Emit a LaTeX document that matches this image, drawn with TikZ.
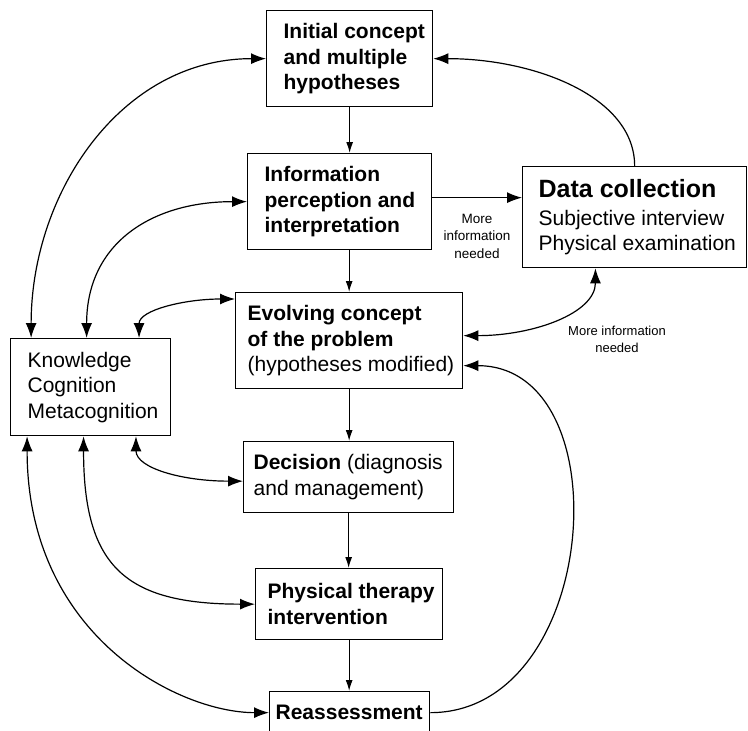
\documentclass[tikz,border=0pt]{standalone}
\usepackage{fontspec}
\setmainfont{Liberation Sans}
\usetikzlibrary{arrows.meta,calc}
% indented, left-aligned block of lines inside a box
\newcommand\boxlines[3]{\hspace*{#1}\parbox{#2}{\raggedright #3}}
\begin{document}
\begin{tikzpicture}[x=1pt,y=-1pt,
  box/.style={draw, line width=1.3pt, anchor=north west, inner xsep=0pt, inner ysep=0pt,
              font=\fontsize{21}{25.5}\selectfont},
  link/.style={line width=1.2pt},
  flow/.style={link, -{Latex[length=11pt,width=7pt]}},
  both/.style={link, {Latex[length=15pt,width=11pt]}-{Latex[length=15pt,width=11pt]}},
  tail/.style={link, -{Latex[length=15pt,width=11pt]}},
  note/.style={align=center, inner sep=0pt}
]
\useasboundingbox (0,0) rectangle (748,731);
\clip (0,0) rectangle (748,731);

% main chain of boxes
\node[box, minimum height=96pt] (init) at (266,10)
  {\boxlines{17pt}{149pt}{\bfseries Initial concept\\and multiple\\hypotheses}};
\node[box, minimum height=96pt] (info) at (247,153)
  {\boxlines{17pt}{167pt}{\bfseries Information\\perception and\\interpretation}};
\node[box, minimum height=101pt] (data) at (522,166)
  {\boxlines{16pt}{208pt}{{\fontsize{25}{28}\selectfont\bfseries Data collection}\\[2.5pt]Subjective interview\\Physical examination}};
\node[box, minimum height=96pt] (ev) at (235,292)
  {\boxlines{12pt}{215pt}{\textbf{Evolving concept}\\\textbf{of the problem}\\(hypotheses modified)}};
\node[box, minimum height=97pt] (kn) at (10,338)
  {\boxlines{17pt}{143pt}{Knowledge\\Cognition\\Metacognition}};
\node[box, minimum height=71pt] (dec) at (243,441)
  {\boxlines{10pt}{200pt}{\textbf{Decision} (diagnosis\\and management)}};
\node[box, minimum height=71pt] (pt) at (255,568)
  {\boxlines{12pt}{175pt}{\bfseries Physical therapy\\intervention}};
\node[box, minimum height=42pt] (ra) at (269,691)
  {\boxlines{6pt}{154pt}{\bfseries Reassessment}};

% labels
\node[note, font=\fontsize{13.5}{17.5}\selectfont] (more1) at (477,236) {More\\information\\needed};
\node[note, font=\fontsize{13}{17}\selectfont] (more2) at (617,339) {More information\\needed};

% downward flow
\draw[flow] (init.south) -- (init.south |- info.north);
\draw[flow] (ev.north |- info.south) -- (ev.north);
\draw[flow] (ev.south) -- (ev.south |- dec.north);
\draw[flow] (dec.south) -- (dec.south |- pt.north);
\draw[flow] (pt.south) -- (pt.south |- ra.north);

% information to data collection
\coordinate (ie) at ($(info.east)+(0,-4)$);
\draw[tail] (ie) -- (ie -| data.west);

% links with knowledge, cognition, metacognition
\draw[both] ($(kn.north west)!0.131!(kn.north east)$) .. controls +(0,-145) and +(-145,0) .. (init.west);
\draw[both] ($(kn.north west)!0.475!(kn.north east)$) .. controls +(0,-95) and +(-95,0) .. (info.west);
\draw[both] ($(kn.north west)!0.8!(kn.north east)$) .. controls +(0,-28) and +(-50,0) .. ($(ev.north west)+(0,7)$);
\draw[both] ($(kn.south west)!0.781!(kn.south east)$) .. controls +(0,32) and +(-60,0) .. ($(dec.west)+(0,4)$);
\draw[both] ($(kn.south west)!0.456!(kn.south east)$) .. controls +(0,130) and +(-130,0) .. (pt.west);
\draw[both] ($(kn.south west)!0.106!(kn.south east)$) .. controls +(0,200) and +(-90,0) .. (ra.west);

% feedback loops on the right
\draw[tail] (data.north) .. controls +(0,-70) and +(100,0) .. (init.east);
\draw[both] ($(data.south west)!0.326!(data.south east)$) .. controls +(0,45) and +(70,0) .. ($(ev.east)+(0,-5)$);
\draw[tail] (ra.east) .. controls +(170,0) and +(160,0) .. ($(ev.east)+(0,25)$);
\end{tikzpicture}
\end{document}
